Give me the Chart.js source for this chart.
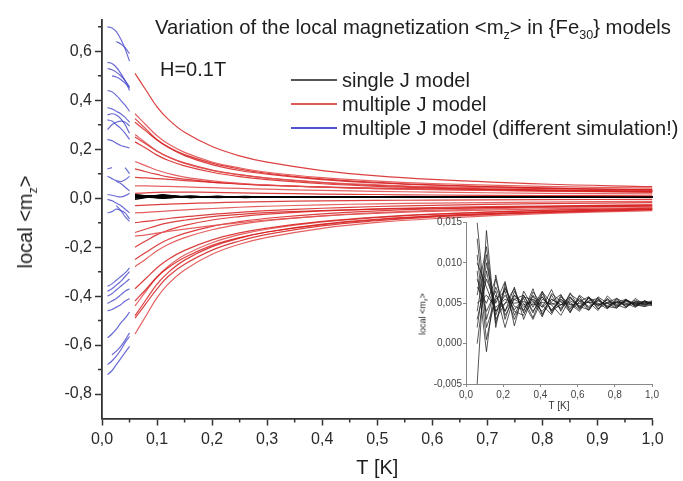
<!DOCTYPE html>
<html>
<head>
<meta charset="utf-8">
<script src="https://cdn.jsdelivr.net/npm/chart.js@4.4.1/dist/chart.umd.min.js"></script>
<style>
body { margin: 0; background: #fff; }
#wrap { position: relative; width: 683px; height: 481px; font-family: "Liberation Sans", Arial, sans-serif; color: #1e1e1e; }
canvas { position: absolute; }
.txt { position: absolute; white-space: nowrap; line-height: 1; }
.rot { transform: translate(-50%, -50%) rotate(-90deg); }
sub { font-size: 62%; vertical-align: -0.4em; line-height: 0; }
.key { position: absolute; height: 2px; width: 46px; }
</style>
</head>
<body>
<div id="wrap">
  <canvas id="main" width="683" height="481" style="left:0;top:0"></canvas>
  <canvas id="inset" width="283" height="225" style="left:400px;top:200px"></canvas>

  <div class="txt" style="left:155px;top:17px;font-size:20.3px">Variation of the local magnetization &lt;m<sub>z</sub>&gt; in {Fe<sub>30</sub>} models</div>
  <div class="txt" style="left:160px;top:59px;font-size:20px">H=0.1T</div>

  <div class="key" style="left:291px;top:79px;background:#555"></div>
  <div class="txt" style="left:342px;top:70px;font-size:20px">single J model</div>
  <div class="key" style="left:291px;top:103px;background:#e05a5a"></div>
  <div class="txt" style="left:342px;top:94px;font-size:20px">multiple J model</div>
  <div class="key" style="left:291px;top:127px;background:#5050d0"></div>
  <div class="txt" style="left:342px;top:118px;font-size:20px">multiple J model (different simulation!)</div>

  <div class="txt rot" style="left:25px;top:222px;font-size:20px">local &lt;m<sub>z</sub>&gt;</div>
  <div class="txt rot" style="left:423px;top:314px;font-size:9px">local &lt;m<sub>z</sub>&gt;</div>
</div>
<script>
// temperatures where the curves were read
const redT = [0.06, 0.08, 0.1, 0.12, 0.15, 0.2, 0.25, 0.3, 0.4, 0.5, 0.6, 0.8, 1.0];
const blueT = [0.01, 0.018, 0.026, 0.034, 0.042, 0.05];
const singleT = [0.06, 0.11, 0.16, 0.21, 0.26, 0.31, 0.36, 0.41, 0.46, 0.51, 0.56, 0.61, 0.66, 0.71, 0.76, 0.81, 0.86, 0.91, 0.96, 1.0];

// multiple J model
const redCurves = [
  [0.51, 0.441, 0.373, 0.323, 0.269, 0.211, 0.173, 0.147, 0.113, 0.091, 0.077, 0.058, 0.047],
  [0.345, 0.299, 0.255, 0.222, 0.187, 0.148, 0.124, 0.106, 0.084, 0.070, 0.060, 0.048, 0.041],
  [0.325, 0.282, 0.239, 0.208, 0.174, 0.137, 0.113, 0.098, 0.076, 0.062, 0.053, 0.041, 0.035],
  [0.31, 0.274, 0.238, 0.210, 0.178, 0.143, 0.119, 0.102, 0.079, 0.065, 0.055, 0.042, 0.034],
  [0.26, 0.226, 0.193, 0.169, 0.142, 0.113, 0.095, 0.082, 0.065, 0.055, 0.047, 0.039, 0.033],
  [0.25, 0.221, 0.192, 0.169, 0.144, 0.115, 0.096, 0.082, 0.064, 0.052, 0.044, 0.034, 0.028],
  [0.23, 0.204, 0.176, 0.155, 0.132, 0.106, 0.088, 0.076, 0.059, 0.048, 0.041, 0.031, 0.025],
  [0.15, 0.132, 0.114, 0.101, 0.086, 0.071, 0.061, 0.054, 0.045, 0.039, 0.036, 0.030, 0.028],
  [0.12, 0.108, 0.097, 0.087, 0.078, 0.066, 0.058, 0.052, 0.046, 0.041, 0.037, 0.033, 0.031],
  [0.085, 0.083, 0.080, 0.077, 0.072, 0.065, 0.058, 0.053, 0.045, 0.039, 0.035, 0.029, 0.025],
  [0.05, 0.050, 0.049, 0.048, 0.046, 0.043, 0.040, 0.037, 0.032, 0.028, 0.025, 0.020, 0.018],
  [0.02, 0.022, 0.024, 0.025, 0.025, 0.024, 0.022, 0.020, 0.017, 0.015, 0.013, 0.011, 0.010],
  [-0.03, -0.028, -0.026, -0.024, -0.022, -0.019, -0.016, -0.014, -0.011, -0.009, -0.008, -0.006, -0.005],
  [-0.06, -0.058, -0.055, -0.052, -0.048, -0.042, -0.037, -0.033, -0.027, -0.023, -0.020, -0.016, -0.013],
  [-0.10, -0.095, -0.089, -0.083, -0.076, -0.066, -0.058, -0.051, -0.041, -0.034, -0.029, -0.022, -0.018],
  [-0.14, -0.126, -0.112, -0.101, -0.090, -0.075, -0.066, -0.059, -0.051, -0.045, -0.041, -0.036, -0.033],
  [-0.155, -0.150, -0.143, -0.136, -0.126, -0.112, -0.100, -0.089, -0.073, -0.062, -0.054, -0.044, -0.038],
  [-0.2, -0.174, -0.149, -0.131, -0.111, -0.089, -0.075, -0.065, -0.052, -0.044, -0.038, -0.032, -0.027],
  [-0.25, -0.221, -0.192, -0.169, -0.144, -0.115, -0.096, -0.082, -0.064, -0.052, -0.044, -0.034, -0.028],
  [-0.28, -0.248, -0.215, -0.189, -0.161, -0.129, -0.107, -0.092, -0.072, -0.059, -0.050, -0.038, -0.031],
  [-0.37, -0.327, -0.284, -0.250, -0.213, -0.170, -0.142, -0.122, -0.095, -0.077, -0.065, -0.050, -0.041],
  [-0.42, -0.372, -0.322, -0.284, -0.242, -0.193, -0.161, -0.138, -0.108, -0.088, -0.074, -0.057, -0.046],
  [-0.44, -0.380, -0.322, -0.279, -0.232, -0.182, -0.149, -0.127, -0.097, -0.079, -0.066, -0.050, -0.040],
  [-0.48, -0.415, -0.351, -0.304, -0.253, -0.198, -0.163, -0.138, -0.106, -0.086, -0.072, -0.055, -0.044],
  [-0.49, -0.43, -0.37, -0.32, -0.27, -0.212, -0.175, -0.148, -0.113, -0.092, -0.077, -0.059, -0.047],
  [-0.555, -0.480, -0.406, -0.351, -0.293, -0.229, -0.188, -0.160, -0.123, -0.099, -0.084, -0.063, -0.051]
];

// multiple J model, different simulation (low T only)
const blueCurves = [
  [0.70, 0.695, 0.68, 0.65, 0.61, 0.56],
  [null, null, 0.64, 0.63, 0.615, 0.59],
  [0.555, 0.55, 0.535, 0.51, 0.48, 0.44],
  [0.53, 0.525, 0.515, 0.50, 0.48, 0.455],
  [null, 0.50, 0.495, 0.485, 0.47, 0.45],
  [0.44, 0.435, 0.42, 0.40, 0.38, 0.355],
  [0.37, 0.365, 0.355, 0.345, 0.33, 0.31],
  [0.34, 0.345, 0.34, 0.325, 0.30, 0.265],
  [0.32, 0.315, 0.30, 0.285, 0.265, 0.24],
  [0.28, 0.30, 0.31, 0.315, 0.31, 0.295],
  [0.24, 0.235, 0.225, 0.215, 0.21, 0.205],
  [0.12, 0.125, null, null, null, null],
  [null, null, null, null, 0.125, 0.10],
  [0.09, 0.08, 0.072, 0.068, 0.075, 0.09],
  [null, null, 0.068, 0.06, 0.045, 0.03],
  [0.015, 0.012, 0.008, 0.005, 0.01, 0.02],
  [-0.005, -0.01, -0.02, -0.03, -0.045, -0.06],
  [-0.06, -0.055, -0.045, -0.05, -0.06, -0.085],
  [null, null, -0.03, -0.05, -0.075, -0.095],
  [-0.36, -0.35, -0.335, -0.32, -0.305, -0.285],
  [-0.38, -0.37, -0.355, -0.34, -0.32, -0.30],
  [-0.40, -0.39, -0.375, -0.36, -0.345, -0.33],
  [-0.43, -0.42, -0.41, -0.395, -0.38, -0.37],
  [-0.46, -0.455, -0.445, -0.435, -0.42, -0.41],
  [-0.57, -0.555, -0.535, -0.51, -0.49, -0.465],
  [null, -0.64, -0.625, -0.605, -0.58, -0.55],
  [-0.68, -0.665, -0.645, -0.62, -0.59, -0.565],
  [-0.72, -0.705, -0.68, -0.655, -0.63, -0.605]
];

// single J model (shown in the inset, black line near 0 in main plot)
const singleCurves = [
  [0.015, 0.003, 0.007, 0.004, 0.006, 0.0045, 0.0055, 0.0045, 0.0055, 0.0048, 0.0053, 0.0047, 0.0052, 0.0048, 0.0051, 0.0049, 0.0052, 0.0049, 0.0051, 0.005],
  [-0.005, 0.014, 0.002, 0.0075, 0.0035, 0.006, 0.004, 0.0058, 0.0042, 0.0055, 0.0045, 0.0054, 0.0046, 0.0053, 0.0047, 0.0052, 0.0048, 0.0051, 0.0049, 0.005],
  [0.009, -0.001, 0.0085, 0.003, 0.0065, 0.004, 0.0068, 0.0035, 0.006, 0.0042, 0.0058, 0.0045, 0.0056, 0.0046, 0.0055, 0.0047, 0.0053, 0.0048, 0.0052, 0.0049],
  [0.002, 0.010, 0.004, 0.006, 0.0042, 0.0056, 0.0032, 0.0062, 0.004, 0.0055, 0.0043, 0.0056, 0.0044, 0.0054, 0.0045, 0.0053, 0.0046, 0.0052, 0.0048, 0.0051],
  [0.011, 0.0005, 0.006, 0.004, 0.007, 0.003, 0.006, 0.0045, 0.0067, 0.004, 0.0063, 0.0044, 0.0057, 0.0043, 0.0056, 0.0046, 0.0054, 0.0047, 0.0053, 0.0048],
  [0.006, 0.012, 0.003, 0.005, 0.0055, 0.0048, 0.0052, 0.004, 0.0055, 0.0048, 0.0051, 0.0042, 0.0058, 0.0047, 0.0054, 0.0045, 0.0055, 0.0046, 0.0053, 0.005],
  [0.003, 0.008, 0.005, 0.0077, 0.0022, 0.0065, 0.0045, 0.0065, 0.0038, 0.006, 0.0038, 0.0059, 0.0042, 0.0057, 0.0044, 0.0055, 0.0046, 0.0054, 0.0047, 0.0052],
  [0.008, 0.004, 0.0065, 0.002, 0.006, 0.005, 0.003, 0.0055, 0.0048, 0.0035, 0.0056, 0.0046, 0.0042, 0.0055, 0.0046, 0.0044, 0.0054, 0.0048, 0.0046, 0.0051],
  [0.005, 0.006, 0.0045, 0.0055, 0.005, 0.0052, 0.0048, 0.0051, 0.0049, 0.0052, 0.0048, 0.005, 0.0051, 0.0049, 0.005, 0.0051, 0.0049, 0.005, 0.005, 0.005],
  [0.0, 0.009, 0.0035, 0.007, 0.004, 0.0035, 0.0064, 0.0048, 0.0036, 0.0058, 0.0049, 0.004, 0.0057, 0.005, 0.0043, 0.0056, 0.005, 0.0045, 0.0053, 0.0049],
  [0.013, 0.002, 0.0055, 0.0065, 0.003, 0.0058, 0.0054, 0.0033, 0.0062, 0.0052, 0.0039, 0.006, 0.0051, 0.0041, 0.0059, 0.0048, 0.0044, 0.0056, 0.0048, 0.0052],
  [0.007, 0.005, 0.008, 0.0035, 0.0055, 0.006, 0.0038, 0.0064, 0.005, 0.0044, 0.0061, 0.0053, 0.0041, 0.0058, 0.005, 0.0044, 0.0054, 0.005, 0.0046, 0.0048],
  [0.004, 0.011, 0.0025, 0.0068, 0.0046, 0.0042, 0.0059, 0.0037, 0.0052, 0.0061, 0.0041, 0.0052, 0.0058, 0.0043, 0.0051, 0.0056, 0.0045, 0.0052, 0.0052, 0.0047],
  [0.010, 0.007, 0.004, 0.005, 0.0068, 0.0038, 0.005, 0.0058, 0.0041, 0.0048, 0.0058, 0.0043, 0.0053, 0.0056, 0.0044, 0.0051, 0.0055, 0.0046, 0.005, 0.0053]
];

// axis ticks
const xTicks = [0, 0.1, 0.2, 0.3, 0.4, 0.5, 0.6, 0.7, 0.8, 0.9, 1.0];
const xMinor = [0.05, 0.15, 0.25, 0.35, 0.45, 0.55, 0.65, 0.75, 0.85, 0.95];
const yTicks = [-0.8, -0.6, -0.4, -0.2, 0, 0.2, 0.4, 0.6];
const yMinor = [-0.7, -0.5, -0.3, -0.1, 0.1, 0.3, 0.5, 0.7];
const insetXTicks = [0, 0.2, 0.4, 0.6, 0.8, 1.0];
const insetYTicks = [-0.005, 0, 0.005, 0.01, 0.015];

const comma = (v, d) => (Math.abs(v) < 1e-9 ? 0 : v).toFixed(d).replace('.', ',');
const pts = (ts, ys) => ts.map((t, i) => ({ x: t, y: ys[i] }));

const minorTicks = {
  id: 'minorTicks',
  afterDraw(chart, args, opts) {
    if (!opts.x) return;
    const { ctx, scales: { x, y } } = chart;
    ctx.save();
    ctx.strokeStyle = opts.color;
    ctx.lineWidth = opts.width;
    ctx.beginPath();
    for (const v of opts.x) {
      const px = x.getPixelForValue(v);
      ctx.moveTo(px, x.top);
      ctx.lineTo(px, x.top + opts.len);
    }
    for (const v of opts.y) {
      const py = y.getPixelForValue(v);
      ctx.moveTo(y.right, py);
      ctx.lineTo(y.right - opts.len, py);
    }
    ctx.stroke();
    ctx.restore();
  }
};

const datasets = [];
redCurves.forEach((c, i) => datasets.push({
  data: pts(redT, c),
  borderColor: i % 3 === 1 ? 'rgba(226,80,80,0.9)' : 'rgba(214,30,30,0.85)',
  borderWidth: 1.2, pointRadius: 0, tension: 0.4
}));
blueCurves.forEach(c => datasets.push({
  data: pts(blueT, c),
  borderColor: 'rgba(70,70,205,0.8)',
  borderWidth: 1.2, pointRadius: 0, tension: 0.4, spanGaps: false
}));
singleCurves.forEach(c => datasets.push({
  data: pts(singleT, c),
  borderColor: '#000',
  borderWidth: 1.3, pointRadius: 0, tension: 0
}));

new Chart(document.getElementById('main'), {
  type: 'line',
  data: { datasets },
  plugins: [minorTicks],
  options: {
    responsive: false,
    animation: false,
    layout: { padding: { top: 19.5, right: 30.5, left: 0, bottom: 0 } },
    plugins: {
      legend: { display: false },
      tooltip: { enabled: false },
      minorTicks: { x: xMinor, y: yMinor, len: 4, color: '#333', width: 1.5 }
    },
    scales: {
      x: {
        type: 'linear', min: 0, max: 1,
        afterBuildTicks: s => { s.ticks = xTicks.map(v => ({ value: v })); },
        afterFit: s => { s.height = 62.5; },
        border: { color: '#333', width: 1.8 },
        grid: { drawOnChartArea: false, tickLength: 7, color: '#333', tickWidth: 1.5 },
        ticks: { font: { family: 'Liberation Sans', size: 16 }, color: '#2a2a2a', padding: 4, maxRotation: 0, callback: v => comma(v, 1) },
        title: { display: true, text: 'T [K]', font: { family: 'Liberation Sans', size: 20 }, color: '#1e1e1e', padding: { top: 0, bottom: 1 } }
      },
      y: {
        type: 'linear', min: -0.9, max: 0.73,
        afterBuildTicks: s => { s.ticks = yTicks.map(v => ({ value: v })); },
        afterFit: s => { s.width = 102; },
        border: { color: '#333', width: 1.8 },
        grid: { drawOnChartArea: false, tickLength: 7, color: '#333', tickWidth: 1.5 },
        ticks: { font: { family: 'Liberation Sans', size: 16 }, color: '#2a2a2a', padding: 3, callback: v => comma(v, 1) }
      }
    }
  }
});

new Chart(document.getElementById('inset'), {
  type: 'line',
  data: {
    datasets: singleCurves.map(c => ({
      data: pts(singleT, c),
      borderColor: 'rgba(30,30,30,0.75)',
      borderWidth: 1, pointRadius: 0, tension: 0
    }))
  },
  options: {
    responsive: false,
    animation: false,
    layout: { padding: { top: 22.5, right: 31, left: 0, bottom: 0 } },
    plugins: { legend: { display: false }, tooltip: { enabled: false } },
    scales: {
      x: {
        type: 'linear', min: 0, max: 1,
        afterBuildTicks: s => { s.ticks = insetXTicks.map(v => ({ value: v })); },
        afterFit: s => { s.height = 41; },
        border: { color: '#888', width: 1 },
        grid: { drawOnChartArea: false, tickLength: 3, color: '#888' },
        ticks: { font: { family: 'Liberation Sans', size: 10 }, color: '#444', padding: 2, maxRotation: 0, callback: v => comma(v, 1) },
        title: { display: true, text: 'T [K]', font: { family: 'Liberation Sans', size: 10 }, color: '#333', padding: { top: 0, bottom: 13 } }
      },
      y: {
        type: 'linear', min: -0.005, max: 0.015,
        afterBuildTicks: s => { s.ticks = insetYTicks.map(v => ({ value: v })); },
        afterFit: s => { s.width = 66; },
        border: { color: '#888', width: 1 },
        grid: { drawOnChartArea: false, tickLength: 3, color: '#888' },
        ticks: { font: { family: 'Liberation Sans', size: 10 }, color: '#444', padding: 1, callback: v => comma(v, 3) }
      }
    }
  }
});
</script>
</body>
</html>
